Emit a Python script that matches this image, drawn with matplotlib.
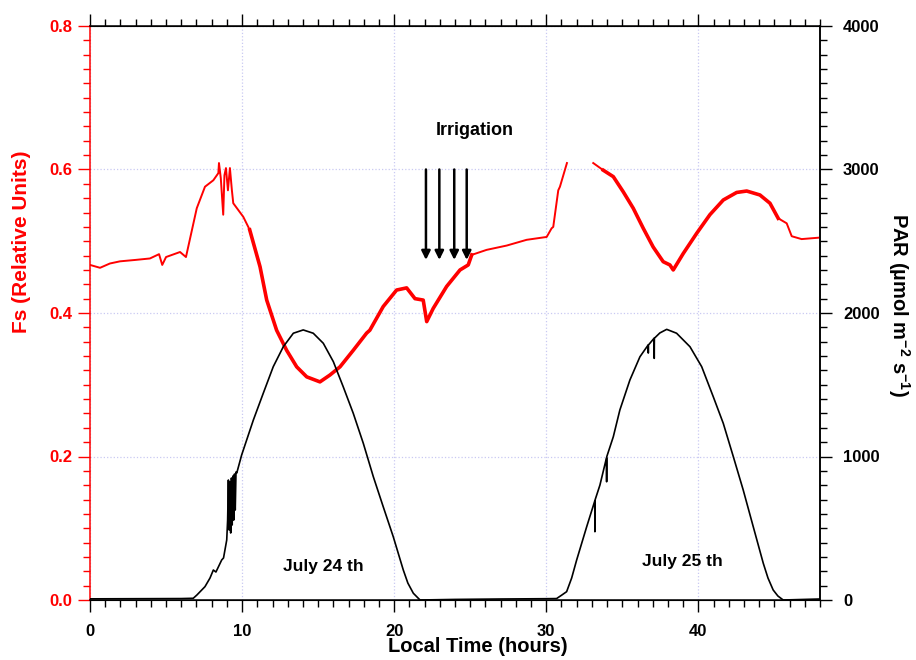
import numpy as np
import matplotlib
matplotlib.use("Agg")
import matplotlib.pyplot as plt
from matplotlib.ticker import MultipleLocator

plt.rcParams['font.family'] = ['Liberation Sans', 'DejaVu Sans']
plt.rcParams['font.weight'] = 'bold'
plt.rcParams['mathtext.fontset'] = 'custom'
plt.rcParams['mathtext.rm'] = 'Liberation Sans:bold'
plt.rcParams['mathtext.bf'] = 'Liberation Sans:bold'
plt.rcParams['mathtext.default'] = 'bf'

# Fs (relative units); nan = gap in the record
fs_hours = [0.0, 0.66, 1.31, 1.97, 3.0, 3.94, 4.54, 4.75, 5.0, 5.92, 6.31, 7.02, 7.56,
            8.11, 8.44, 8.48, 8.6, 8.76, 8.84, 8.94, 9.07, 9.2, 9.33, 9.42, 10.08, 10.5,
            11.18, 11.62, 12.27, 12.93, 13.59, 14.25, 15.12, 15.78, 16.44, 17.31, 18.19,
            18.4, 19.28, 20.16, 20.82, 21.37, 21.91, 22.14, 22.57, 23.45, 24.33, 24.87,
            25.1, 26.08, 27.4, 28.71, 30.03, 30.35, 30.46, 30.79, 30.9, 31.36, 32.2,
            33.09, 33.75, 34.41, 35.06, 35.72, 36.38, 37.03, 37.69, 38.13, 38.35, 39.01,
            39.89, 40.76, 41.64, 42.52, 43.18, 44.05, 44.71, 45.25, 45.81, 46.14, 46.79,
            47.93]
fs_values = [0.467, 0.463, 0.469, 0.472, 0.474, 0.476, 0.482, 0.467, 0.478, 0.485, 0.478,
             0.546, 0.576, 0.585, 0.595, 0.609, 0.588, 0.537, 0.592, 0.602, 0.571, 0.602,
             0.571, 0.553, 0.534, 0.516, 0.4645, 0.418, 0.376, 0.348, 0.325, 0.311, 0.304,
             0.3136, 0.325, 0.348, 0.372, 0.376, 0.409, 0.432, 0.435, 0.42, 0.418, 0.388,
             0.4065, 0.437, 0.46, 0.467, 0.481, 0.488, 0.494, 0.502, 0.506, 0.518, 0.52,
             0.571, 0.576, 0.609, np.nan, 0.609, 0.599, 0.59, 0.569, 0.546, 0.518, 0.492,
             0.4715, 0.467, 0.46, 0.483, 0.511, 0.537, 0.5575, 0.568, 0.570, 0.5645, 0.553,
             0.532, 0.525, 0.507, 0.503, 0.505]

# PAR (umol m-2 s-1)
par_hours = [0.0, 3.0, 6.0, 6.79, 7.03, 7.56, 7.89, 8.11, 8.28, 8.66, 8.78, 8.99, 9.05,
             9.1, 9.15, 9.2, 9.25, 9.3, 9.35, 9.4, 9.45, 9.5, 9.55, 9.6, 9.65, 9.97,
             10.74, 11.39, 12.05, 12.71, 13.37, 14.02, 14.68, 15.34, 16.0, 16.65, 17.31,
             17.97, 18.63, 19.28, 19.94, 20.6, 20.9, 21.26, 21.7, 24.0, 27.0, 29.98,
             30.68, 31.03, 31.34, 31.67, 32.0, 32.66, 33.19, 33.2, 33.21, 33.53, 33.96,
             33.97, 33.98, 34.41, 34.84, 35.5, 36.16, 36.7, 36.71, 36.72, 37.09, 37.1,
             37.11, 37.47, 37.92, 38.57, 39.45, 40.22, 40.98, 41.64, 42.3, 42.95, 43.61,
             44.27, 44.58, 44.92, 45.23, 45.58, 48.0]
par_values = [8, 9, 10, 12, 35, 93, 153, 209, 195, 279, 293, 418, 557, 836, 488, 822,
              467, 850, 523, 864, 557, 878, 627, 892, 885, 1010, 1254, 1440, 1626, 1765,
              1859, 1882, 1859, 1789, 1661, 1486, 1301, 1092, 859, 650, 441, 209, 118,
              47, 0, 4, 7, 9, 10, 35, 58, 153, 279, 511, 690, 476, 697, 801, 990, 824, 999,
              1138, 1324, 1533, 1695, 1777, 1721, 1777, 1824, 1684, 1824, 1861, 1886, 1859,
              1765, 1626, 1417, 1231, 999, 767, 511, 256, 153, 70, 28, 0, 7]

irrigation_times = [22.09, 22.97, 23.95, 24.77]
day_labels = ['July 24 th', 'July 25 th']
day_label_pos = [(15.34, 0.0465), (38.97, 0.0535)]

# thicker red where the trace is noisy
noisy_windows = [(10.3, 25.1), (33.1, 45.3)]

fig = plt.figure(figsize=(9.16, 6.6), dpi=100)
ax1 = fig.add_axes([90 / 916, 60 / 660, 730 / 916, 574 / 660])
ax2 = ax1.twinx()

fs_h = np.array(fs_hours)
fs_v = np.array(fs_values)
ax1.plot(fs_h, fs_v, color='red', lw=1.4, zorder=3)
for a, b in noisy_windows:
    m = (fs_h >= a) & (fs_h <= b)
    ax1.plot(fs_h[m], fs_v[m], color='red', lw=2.6, zorder=3)

ax2.plot(par_hours, par_values, color='black', lw=1.2)

ax1.set_xlim(0, 48)
ax1.set_ylim(0, 0.8)
ax2.set_ylim(0, 4000)

ax1.xaxis.set_major_locator(MultipleLocator(10))
ax1.xaxis.set_minor_locator(MultipleLocator(1))
ax1.yaxis.set_major_locator(MultipleLocator(0.2))
ax1.yaxis.set_minor_locator(MultipleLocator(0.02))
ax2.yaxis.set_major_locator(MultipleLocator(1000))
ax2.yaxis.set_minor_locator(MultipleLocator(100))
ax1.yaxis.set_major_formatter(matplotlib.ticker.FormatStrFormatter('%.1f'))

ax1.grid(True, which='major', color='#c9c9f2', linestyle=':', lw=0.9)
ax1.set_axisbelow(True)

ax1.tick_params(axis='x', which='both', direction='out', top=True, labelsize=12,
                pad=9, width=1)
ax1.tick_params(axis='x', which='major', length=8.5)
ax1.tick_params(axis='x', which='minor', length=4.8)
ax1.tick_params(axis='y', which='both', direction='out', colors='red', labelsize=12,
                pad=4, width=1)
ax1.tick_params(axis='y', which='major', length=8.5)
ax1.tick_params(axis='y', which='minor', length=4.8)
ax2.tick_params(axis='y', which='both', direction='out', labelsize=12, pad=8, width=1)
ax2.tick_params(axis='y', which='major', length=8.5)
ax2.tick_params(axis='y', which='minor', length=4.8)

ax1.spines['left'].set_color('red')
ax2.spines['left'].set_visible(False)
for sp in ax1.spines.values():
    sp.set_linewidth(1.1)
ax2.spines['right'].set_linewidth(1.1)

fig.text(22 / 916, 1 - 242 / 660, 'Fs (Relative Units)', color='red', fontsize=15,
         rotation=90, ha='center', va='center')
fig.text(899 / 916, 1 - 305 / 660, 'PAR (µmol m$^{-2}$ s$^{-1}$)', fontsize=14.5,
         rotation=270, ha='center', va='center')
fig.text(478 / 916, 1 - 647 / 660, 'Local Time (hours)', fontsize=14.5,
         ha='center', va='center')

ax1.text(25.3, 0.654, 'Irrigation', fontsize=13, ha='center', va='center')
for t in irrigation_times:
    ax1.annotate('', xy=(t, 0.474), xytext=(t, 0.6),
                 arrowprops=dict(arrowstyle='-|>', color='black', lw=1.8,
                                 mutation_scale=13, shrinkA=0, shrinkB=0))
for lab, (x, y) in zip(day_labels, day_label_pos):
    ax1.text(x, y, lab, fontsize=12.5, ha='center', va='center')

fig.savefig('out.png', dpi=100)
